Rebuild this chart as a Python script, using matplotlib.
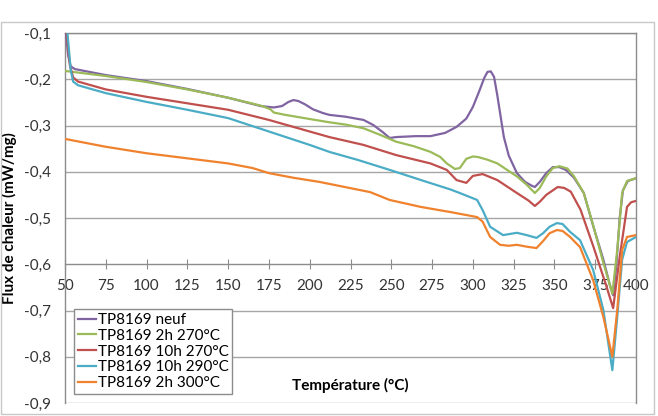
import numpy as np
import matplotlib
matplotlib.use("Agg")
import matplotlib.pyplot as plt
from matplotlib.patches import Rectangle

plt.rcParams['font.family'] = ['Lato', 'DejaVu Sans']

# temperature (deg C) / heat flow (mW/mg)
t_neuf = [50.5, 52, 53.5, 56, 75, 100, 125, 150, 170, 178, 183, 187, 190, 193, 197, 202, 208,
          212, 222, 233, 239, 245, 249, 253, 265, 274, 283, 290, 296, 300, 304, 307, 309, 311,
          313, 315, 317, 319, 322, 327, 332, 336, 338, 341, 345, 349, 353, 357, 362, 368, 374,
          380, 384, 386, 388, 390, 392, 395, 400]
f_neuf = [-0.10, -0.15, -0.172, -0.178, -0.191, -0.204, -0.221, -0.240, -0.258, -0.261, -0.258,
          -0.249, -0.245, -0.247, -0.254, -0.265, -0.273, -0.277, -0.281, -0.288, -0.299, -0.315,
          -0.327, -0.325, -0.323, -0.323, -0.316, -0.303, -0.285, -0.260, -0.225, -0.197, -0.184,
          -0.183, -0.195, -0.235, -0.280, -0.325, -0.365, -0.403, -0.422, -0.430, -0.433, -0.422,
          -0.403, -0.390, -0.390, -0.396, -0.413, -0.446, -0.520, -0.590, -0.645, -0.667, -0.600,
          -0.500, -0.440, -0.420, -0.414]

t_2h270 = [50, 75, 100, 125, 150, 170, 176, 178, 185, 200, 212, 222, 233, 243, 253, 264, 274,
           280, 284, 289, 292, 296, 300, 303, 309, 315, 321, 327, 333, 338, 341, 345, 349, 353,
           358, 362, 368, 374, 380, 384, 385.5, 388.5, 391.5, 394.5, 400]
f_2h270 = [-0.182, -0.193, -0.206, -0.222, -0.240, -0.257, -0.265, -0.272, -0.277, -0.286,
           -0.293, -0.298, -0.306, -0.320, -0.335, -0.345, -0.357, -0.368, -0.382, -0.394, -0.392,
           -0.372, -0.367, -0.368, -0.374, -0.382, -0.396, -0.410, -0.428, -0.446, -0.435, -0.410,
           -0.392, -0.388, -0.393, -0.410, -0.446, -0.519, -0.597, -0.645, -0.664, -0.569, -0.446,
           -0.420, -0.414]

t_10h270 = [51, 53, 55, 58, 75, 100, 125, 150, 175, 200, 212, 233, 253, 274, 284, 290, 296, 300,
            306, 315, 327, 334, 338, 341, 345, 352, 356, 360, 366, 374, 382, 386, 390, 394.5,
            397, 400]
f_10h270 = [-0.10, -0.17, -0.196, -0.205, -0.222, -0.238, -0.252, -0.266, -0.288, -0.313, -0.325,
            -0.342, -0.364, -0.382, -0.396, -0.418, -0.424, -0.409, -0.405, -0.418, -0.446, -0.462,
            -0.474, -0.465, -0.450, -0.433, -0.435, -0.443, -0.482, -0.563, -0.649, -0.695, -0.584,
            -0.476, -0.466, -0.463]

t_10h290 = [51.5, 53.5, 55, 58, 75, 100, 125, 150, 175, 200, 212, 230, 249, 270, 286, 292, 302.6,
            306, 310.6, 318.5, 327, 333, 339, 343, 347, 351.5, 355, 359.6, 365.7, 373.7, 380, 383,
            385.5, 388.5, 391.5, 394.5, 400]
f_10h290 = [-0.10, -0.18, -0.205, -0.213, -0.230, -0.249, -0.266, -0.284, -0.313, -0.342, -0.357,
            -0.375, -0.396, -0.420, -0.438, -0.446, -0.461, -0.483, -0.519, -0.537, -0.532, -0.537,
            -0.543, -0.533, -0.519, -0.511, -0.513, -0.530, -0.548, -0.612, -0.699, -0.770, -0.829,
            -0.714, -0.590, -0.552, -0.541]

t_2h300 = [50, 75, 100, 125, 150, 165, 175, 190, 206, 237, 249, 268, 286, 302.6, 306, 310.6, 316.7,
           322, 327, 333, 339, 343, 347, 351.5, 355, 359.6, 365.7, 373.7, 380, 385.5, 388.5, 391.5,
           394.5, 400]
f_2h300 = [-0.329, -0.346, -0.360, -0.371, -0.382, -0.392, -0.403, -0.413, -0.422, -0.444, -0.461,
           -0.476, -0.487, -0.498, -0.508, -0.541, -0.558, -0.560, -0.558, -0.562, -0.565, -0.550,
           -0.533, -0.526, -0.528, -0.541, -0.563, -0.634, -0.714, -0.800, -0.699, -0.569, -0.541,
           -0.537]

labels = ["TP8169 neuf", "TP8169 2h 270°C", "TP8169 10h 270°C", "TP8169 10h 290°C",
          "TP8169 2h 300°C"]
colors = ["#8064A2", "#9BBB59", "#C0504D", "#4BACC6", "#F0822E"]
series = [(t_neuf, f_neuf), (t_2h270, f_2h270), (t_10h270, f_10h270),
          (t_10h290, f_10h290), (t_2h300, f_2h300)]

x_ticks = np.arange(50, 401, 25)
y_ticks = np.round(np.arange(-0.9, -0.05, 0.1), 1)

fig = plt.figure(figsize=(6.58, 4.16), dpi=100)
ax = fig.add_axes([65 / 658, 1 - 403 / 416, 571 / 658, 370 / 416])

# outer chart frame
fig.patches.append(Rectangle((1 / 658, 2 / 416), 653 / 658, 392 / 416, transform=fig.transFigure,
                             fill=False, edgecolor="#c8c8c8", linewidth=1.0))

for yv in y_ticks:
    ax.axhline(yv, color="#a6a6a6", linewidth=1.0, zorder=1)

for (t, f), lab, c in zip(series, labels, colors):
    ax.plot(t, f, color=c, linewidth=1.6, label=lab, zorder=3)

ax.set_xlim(50, 400)
ax.set_ylim(-0.9, -0.1)
ax.set_xticks(x_ticks)
ax.set_yticks(y_ticks)
ax.set_yticklabels([("%.1f" % v).replace(".", ",") for v in y_ticks])

for s in ["left", "top", "right"]:
    ax.spines[s].set_color("#8c8c8c")
    ax.spines[s].set_linewidth(1.0)
ax.spines["bottom"].set_position(("data", -0.6))
ax.spines["bottom"].set_color("#8c8c8c")

ax.tick_params(axis="x", direction="inout", length=7, width=0.8, color="#8c8c8c",
               pad=7, labelsize=11, labelcolor="#333333")
ax.tick_params(axis="y", length=0, pad=10, labelsize=11, labelcolor="#333333")

ax.set_ylabel("Flux de chaleur (mW/mg)", fontsize=11, fontweight="bold", labelpad=5)
ax.text(0.5, 0.047, "Température (°C)", transform=ax.transAxes, ha="center", va="center",
        fontsize=11, fontweight="bold")

leg = ax.legend(loc="lower left", bbox_to_anchor=(9 / 571, 9 / 370), fontsize=11,
                handlelength=1.2, handletextpad=0.1, labelspacing=0.12, borderpad=0.25,
                fancybox=False, framealpha=1, edgecolor="#8c8c8c", borderaxespad=0)
leg.get_frame().set_linewidth(1.0)

fig.savefig("out.png", dpi=100)
